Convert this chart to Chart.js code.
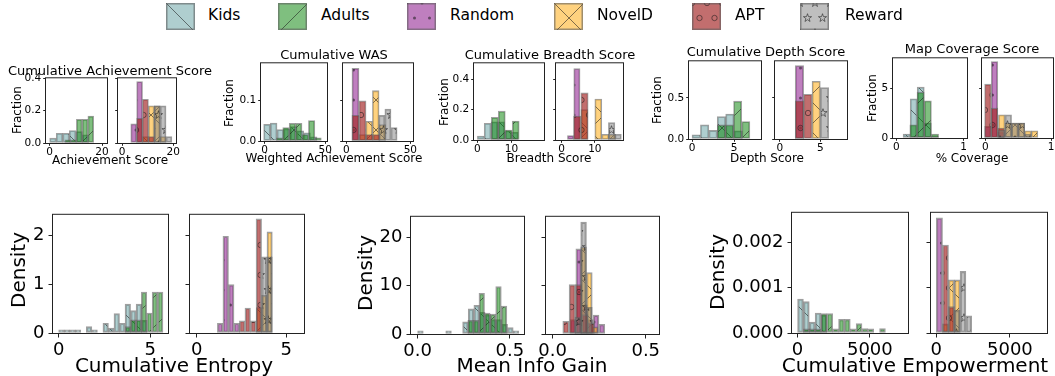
<!DOCTYPE html>
<html><head><meta charset="utf-8">
<script src="https://cdn.jsdelivr.net/npm/chart.js@4.4.1/dist/chart.umd.min.js"></script>
<style>
html,body{margin:0;padding:0;background:#fff;}
body{width:1055px;height:376px;position:relative;overflow:hidden;font-family:'DejaVu Sans',sans-serif;color:#000;}
.tx{position:absolute;white-space:nowrap;transform:translate(-50%,-50%);line-height:1;}
.rot{transform:translate(-50%,-50%) rotate(-90deg);}
canvas.pc{position:absolute;}
canvas.sw{position:absolute;}
.lt{position:absolute;white-space:nowrap;font-size:15.5px;line-height:1;transform:translateY(-50%);}
</style></head><body>
<script>
// ================= DATA =================
const legendLabels = ['Kids','Adults','Random','NovelD','APT','Reward'];
const legendKeys   = ['kids','adults','random','noveld','apt','reward'];

// histogram series: x0 = first bin edge, w = bin width, v = bar heights
// Cumulative Achievement Score
const achKids   = {x0:0,    w:2.5, v:[0.03,0.06,0.06,0.077,0.07,0.05]};
const achAdults = {x0:5.8,  w:2.2, v:[0.02,0.02,0.147,0.147,0.167]};
const achRandom = {x0:3.4,  w:2.3, v:[0.118,0.38]};
const achNoveld = {x0:8.0,  w:2.3, v:[0.04,0.23,0.23,0.04]};
const achApt    = {x0:5.7,  w:2.3, v:[0.153,0.27,0.04]};
const achReward = {x0:12.6, w:2.3, v:[0.23,0.23,0.04]};
// Cumulative WAS
const wasKids   = {x0:-0.8, w:5.5, v:[0.041,0.044,0.028,0.03,0.035,0.025,0.02,0.01]};
const wasAdults = {x0:9.6,  w:5.3, v:[0.008,0.033,0.043,0.043,0.016,0.05,0.008]};
const wasRandom = {x0:4.4,  w:5.5, v:[0.178]};
const wasNoveld = {x0:10.0, w:5.2, v:[0.016,0.048,0.123,0.04]};
const wasApt    = {x0:4.4,  w:5.5, v:[0.063,0.098,0.016,0.016]};
const wasReward = {x0:25.3, w:4.8, v:[0.063,0.078,0.033]};
// Cumulative Breadth Score
const brKids    = {x0:0,    w:2.0,  v:[0.026,0.11,0.12,0.12,0.06,0.05]};
const brAdults  = {x0:4.1,  w:2.05, v:[0.15,0.19,0.066,0.125]};
const brRandom  = {x0:1.75, w:1.9,  v:[0.029,0.47]};
const brNoveld  = {x0:5.8,  w:2.1,  v:[0.2,0,0.27,0.037,0.037]};
const brApt     = {x0:3.6,  w:2.2,  v:[0.158,0.31]};
const brReward  = {x0:14.1, w:1.95, v:[0.114,0.037]};
// Cumulative Depth Score
const depKids   = {x0:0,    w:1.0,  v:[0.052,0.172,0.104,0.272,0.304,0.1]};
const depAdults = {x0:3.0,  w:0.97, v:[0.172,0.172,0.46,0.212]};
const depRandom = {x0:1.9,  w:1.04, v:[0.892]};
const depNoveld = {x0:3.98, w:1.02, v:[0.7]};
const depApt    = {x0:1.9,  w:1.04, v:[0.464,0.544]};
const depReward = {x0:5.0,  w:1.04, v:[0.624]};
// Map Coverage Score
const mapKids   = {x0:0.1,   w:0.105, v:[0.4,3.93,5.1,1.5,0.2]};
const mapAdults = {x0:0.2,   w:0.107, v:[1.33,4.6,3.73,0.4]};
const mapRandom = {x0:-0.01, w:0.1,   v:[1.17,7.67,0.6]};
const mapNoveld = {x0:0.2,   w:0.1,   v:[2.33,1.5,1.5,1.5,0.73,0.73]};
const mapApt    = {x0:-0.01, w:0.1,   v:[5.4,3.0,1.0]};
const mapReward = {x0:0.2,   w:0.1,   v:[0.8,2.33,1.5,1.5,0.4]};
// Cumulative Entropy
const entKids   = {x0:0,    w:0.302, v:[0.065,0.065,0.065,0.065,0,0.13,0.065,0,0.2,0.1,0.4,0.2,0.59,0.46,0.59,0.26]};
const entAdults = {x0:3.63, w:0.295, v:[0.13,0.27,0.27,0.84,0.41,0.84,0.84]};
const entRandom = {x0:1.16, w:0.31,  v:[0.2,1.98,0.99,0.2]};
const entNoveld = {x0:3.33, w:0.3,   v:[0.52,0.77,2.07]};
const entApt    = {x0:2.39, w:0.31,  v:[0.25,0.51,0.25,2.34]};
const entReward = {x0:3.63, w:0.3,   v:[1.56,1.56]};
// Mean Info Gain
const igKids    = {x0:0,     w:0.0305, v:[0.65,0,0,0,0,0.65,0,0,2.5,5.2,5.9,4.5,4,3,3,2,1.3,0.65]};
const igAdults  = {x0:0.272, w:0.0303, v:[2.8,2.8,8.4,4.3,4.1,9.8,5.75]};
const igRandom  = {x0:0.094, w:0.031,  v:[3,17.6,6,3,3.9,2.0]};
const igNoveld  = {x0:0.151, w:0.031,  v:[18,12.7,1.5]};
const igApt     = {x0:0.055, w:0.034,  v:[2.6,10.2,10.2,4.0,2.3]};
const igReward  = {x0:0.12,  w:0.031,  v:[3.5,23.1,5.5]};
// Cumulative Empowerment
const empKids   = {x0:0,    w:405, v:[0.00075,0.00069,0.00024,0.00044,0.0004]};
const empAdults = {x0:405,  w:405, v:[0.00009,0.00009,0.00009,0.00043,0.00043,0.00009,0.0003,0.0003,0.00009,0.00021,0.0001,0.00009,0,0.0001]};
const empRandom = {x0:0,    w:425, v:[0.00254]};
const empNoveld = {x0:425,  w:400, v:[0.0002,0.00117,0.00117]};
const empApt    = {x0:425,  w:405, v:[0.00194,0.00058]};
const empReward = {x0:1222, w:395, v:[0.0005,0.00136,0.00038]};

// tick values and labels
const achXTicks=[0,20],      achXLabels=['0','20'];
const achYTicks=[0,0.2,0.4], achYLabels=['0.0','0.2','0.4'];
const wasXTicks=[0,50],      wasXLabels=['0','50'];
const wasYTicks=[0,0.1],     wasYLabels=['0.0','0.1'];
const brXTicks=[0,10],       brXLabels=['0','10'];
const brYTicks=[0,0.2,0.4],  brYLabels=['0.0','0.2','0.4'];
const depXTicks=[0,5],       depXLabels=['0','5'];
const depYTicks=[0,0.5],     depYLabels=['0.0','0.5'];
const mapXTicks=[0,1],       mapXLabels=['0','1'];
const mapYTicks=[0,5],       mapYLabels=['0','5'];
const entXTicks=[0,5],       entXLabels=['0','5'];
const entYTicks=[0,1,2],     entYLabels=['0','1','2'];
const igXTicks=[0,0.5],      igXLabels=['0.0','0.5'];
const igYTicks=[0,10,20],    igYLabels=['0','10','20'];
const empXTicks=[0,5000],    empXLabels=['0','5000'];
const empYTicks=[0,0.001,0.002], empYLabels=['0.000','0.001','0.002'];

// ================= STYLE =================
Chart.defaults.font.family = "'DejaVu Sans', sans-serif";
Chart.defaults.color = '#000';
const FILL = {kids:'rgba(95,158,160,0.5)', adults:'rgba(0,128,0,0.5)', random:'rgba(128,0,128,0.5)',
              noveld:'rgba(255,165,0,0.5)', apt:'rgba(165,42,42,0.68)', reward:'rgba(128,128,128,0.5)'};
const HATCH = {kids:'\\', adults:'/', random:'.', noveld:'x', apt:'o', reward:'*'};
const HC = 'rgba(25,25,25,0.55)';
const EDGE = 'rgba(95,95,95,0.6)';

function makeTile(key){
  const kind = HATCH[key];
  const c = document.createElement('canvas');
  const line = (kind==='\\'||kind==='/'||kind==='x');
  const w = line?30:15, h = 30;
  c.width=w; c.height=h;
  const g = c.getContext('2d');
  g.fillStyle = FILL[key]; g.fillRect(0,0,w,h);
  g.strokeStyle = HC; g.fillStyle = HC; g.lineWidth = 1;
  if (kind==='\\'||kind==='x'){ g.beginPath(); for(const k of [-1,0,1]){ g.moveTo(k*w,0); g.lineTo(k*w+w,h);} g.stroke(); }
  if (kind==='/'||kind==='x'){ g.beginPath(); for(const k of [-1,0,1]){ g.moveTo(k*w,h); g.lineTo(k*w+w,0);} g.stroke(); }
  if (!line){
    const pts=[[0,0],[15,0],[0,30],[15,30],[7.5,15]];
    for(const [px,py] of pts){
      g.beginPath();
      if(kind==='.'){ g.arc(px,py,1.5,0,Math.PI*2); g.fill(); }
      else if(kind==='o'){ g.arc(px,py,2.7,0,Math.PI*2); g.stroke(); }
      else { for(let i=0;i<10;i++){ const r=i%2?1.7:4.3; const a=-Math.PI/2+i*Math.PI/5; const X=px+r*Math.cos(a), Y=py+r*Math.sin(a); i?g.lineTo(X,Y):g.moveTo(X,Y);} g.closePath(); g.stroke(); }
    }
  }
  return c;
}

const boxPlugin = {id:'box', afterDraw(chart){
  const a=chart.chartArea, c=chart.ctx; c.save();
  c.strokeStyle='#222'; c.lineWidth=1;
  c.strokeRect(a.left-0.5,a.top-0.5,a.right-a.left+1,a.bottom-a.top+1);
  c.restore();
}};

// ================= LAYOUT =================
const panels = [
 {box:[46,78,61,65],  x:[-1.4,21.9], y:[0,0.4],  xt:achXTicks,xl:achXLabels,yt:achYTicks,yl:achYLabels,showY:true,  s:[['kids',achKids],['adults',achAdults]]},
 {box:[118,78,58,65], x:[-1.6,21.1], y:[0,0.4],  xt:achXTicks,xl:achXLabels,yt:achYTicks,yl:achYLabels,showY:false, s:[['random',achRandom],['noveld',achNoveld],['apt',achApt],['reward',achReward]]},
 {box:[261,63,66,78], x:[-3,51.4],   y:[0,0.19], xt:wasXTicks,xl:wasXLabels,yt:wasYTicks,yl:wasYLabels,showY:true,  s:[['kids',wasKids],['adults',wasAdults]]},
 {box:[343,63,70,78], x:[-2.6,52.1], y:[0,0.19], xt:wasXTicks,xl:wasXLabels,yt:wasYTicks,yl:wasYLabels,showY:false, s:[['random',wasRandom],['noveld',wasNoveld],['apt',wasApt],['reward',wasReward]]},
 {box:[474,63,70,77], x:[-1,19.6],   y:[0,0.505],xt:brXTicks,xl:brXLabels,yt:brYTicks,yl:brYLabels,showY:true,  s:[['kids',brKids],['adults',brAdults]]},
 {box:[556,63,67,77], x:[-1.7,18.5], y:[0,0.505],xt:brXTicks,xl:brXLabels,yt:brYTicks,yl:brYLabels,showY:false, s:[['random',brRandom],['noveld',brNoveld],['apt',brApt],['reward',brReward]]},
 {box:[689,61,72,78], x:[-0.36,8.2], y:[0,0.945],xt:depXTicks,xl:depXLabels,yt:depYTicks,yl:depYLabels,showY:true,  s:[['kids',depKids],['adults',depAdults]]},
 {box:[775,61,72,78], x:[-0.6,8.3],  y:[0,0.945],xt:depXTicks,xl:depXLabels,yt:depYTicks,yl:depYLabels,showY:false, s:[['random',depRandom],['noveld',depNoveld],['apt',depApt],['reward',depReward]]},
 {box:[893,58,74,80], x:[-0.05,1.05],y:[0,8],    xt:mapXTicks,xl:mapXLabels,yt:mapYTicks,yl:mapYLabels,showY:true,  s:[['kids',mapKids],['adults',mapAdults]]},
 {box:[982,58,71,80], x:[-0.05,1.03],y:[0,8],    xt:mapXTicks,xl:mapXLabels,yt:mapYTicks,yl:mapYLabels,showY:false, s:[['random',mapRandom],['noveld',mapNoveld],['apt',mapApt],['reward',mapReward]]},
 {big:true, box:[53,208,115,125],  x:[-0.31,5.97], y:[0,2.42],  xt:entXTicks,xl:entXLabels,yt:entYTicks,yl:entYLabels,showY:true,  s:[['kids',entKids],['adults',entAdults]]},
 {big:true, box:[190,208,114,125], x:[-0.37,6.0],  y:[0,2.42],  xt:entXTicks,xl:entXLabels,yt:entYTicks,yl:entYLabels,showY:false, s:[['random',entRandom],['noveld',entNoveld],['apt',entApt],['reward',entReward]]},
 {big:true, box:[411,210,113,124], x:[-0.036,0.577],y:[0,24.2], xt:igXTicks,xl:igXLabels,yt:igYTicks,yl:igYLabels,showY:true,  s:[['kids',igKids],['adults',igAdults]]},
 {big:true, box:[546,210,113,124], x:[-0.035,0.571],y:[0,24.2], xt:igXTicks,xl:igXLabels,yt:igYTicks,yl:igYLabels,showY:false, s:[['random',igRandom],['noveld',igNoveld],['apt',igApt],['reward',igReward]]},
 {big:true, box:[792,206,116,127], x:[-385,7637], y:[0,0.00265], xt:empXTicks,xl:empXLabels,yt:empYTicks,yl:empYLabels,showY:true,  s:[['kids',empKids],['adults',empAdults]]},
 {big:true, box:[931,206,116,127], x:[-358,7520], y:[0,0.00265], xt:empXTicks,xl:empXLabels,yt:empYTicks,yl:empYLabels,showY:false, s:[['random',empRandom],['noveld',empNoveld],['apt',empApt],['reward',empReward]]},
];

const texts = [
 ['Cumulative Achievement Score',110,70,13],
 ['Cumulative WAS',334,54,13],
 ['Cumulative Breadth Score',550,54,13],
 ['Cumulative Depth Score',766,51,13],
 ['Map Coverage Score',972,48,13],
 ['Achievement Score',110,160,12],
 ['Weighted Achievement Score',334,158,12],
 ['Breadth Score',549,158,12],
 ['Depth Score',767,158,12],
 ['% Coverage',972,158,12],
 ['Fraction',17,110,12,true],['Fraction',229,103,12,true],['Fraction',444,102,12,true],['Fraction',657,100,12,true],['Fraction',872,98,12,true],
 ['Density',18,270,20,true],['Density',365,273,20,true],['Density',717,272,20,true],
 ['Cumulative Entropy',174,365,20],['Mean Info Gain',532,365,20],['Cumulative Empowerment',915,365,20]
];
const legendSwatchX = [166,278,407,554,692,800];
const legendTextX   = [208,321,450,597,735,845];

// ================= BUILD =================
function buildPanel(p){
  const big = !!p.big;
  const L = big?72:42, T=8, R=12, B=big?34:22;
  const [bl,bt,bw,bh] = p.box;
  const cv = document.createElement('canvas');
  cv.className='pc';
  cv.width=bw+L+R; cv.height=bh+T+B;
  cv.style.left=(bl-L)+'px'; cv.style.top=(bt-T)+'px';
  cv.style.width=cv.width+'px'; cv.style.height=cv.height+'px';
  document.body.appendChild(cv);
  const ctx = cv.getContext('2d');
  const fs = big?18:10.5, tl = big?4.5:2.8;
  const datasets = p.s.map(([key,h],i)=>({
    type:'bar',
    data:h.v.map((y,j)=>({x:h.x0+(j+0.5)*h.w, y:y})),
    backgroundColor: ctx.createPattern(makeTile(key),'repeat'),
    borderColor: EDGE, borderWidth: big?1.5:1.1, borderSkipped:false,
    grouped:false, order:-i,
    barThickness:(c)=>{const s=c.chart.scales.x; return Math.abs(s.getPixelForValue(h.w)-s.getPixelForValue(0));}
  }));
  const gridOpt = {display:true, offset:false, drawOnChartArea:false, drawTicks:true, tickLength:tl, color:'#222', lineWidth:1};
  new Chart(cv,{type:'bar', data:{datasets},
    options:{responsive:false, animation:false, devicePixelRatio:1,
      layout:{padding:{left:0,top:T,right:R,bottom:0}},
      plugins:{legend:{display:false},tooltip:{enabled:false},title:{display:false}},
      scales:{
        x:{type:'linear',min:p.x[0],max:p.x[1],offset:false,grid:gridOpt,border:{display:false},
           ticks:{autoSkip:false,maxRotation:0,minRotation:0,padding:big?2:0.5,color:'#000',font:{size:fs},callback:(v,i)=>p.xl[i]},
           afterBuildTicks:(s)=>{s.ticks=p.xt.map(v=>({value:v}));},
           afterFit:(s)=>{s.height=B;}},
        y:{type:'linear',min:p.y[0],max:p.y[1],grid:gridOpt,border:{display:false},
           ticks:{autoSkip:false,padding:big?4:2,color:'#000',font:{size:fs},callback:(v,i)=>p.showY?p.yl[i]:''},
           afterBuildTicks:(s)=>{s.ticks=p.yt.map(v=>({value:v}));},
           afterFit:(s)=>{s.width=L;}}
      }},
    plugins:[boxPlugin]});
}
panels.forEach(buildPanel);

texts.forEach(([t,x,y,sz,rot])=>{
  const d=document.createElement('div');
  d.className='tx'+(rot?' rot':'');
  d.textContent=t; d.style.left=x+'px'; d.style.top=y+'px'; d.style.fontSize=sz+'px';
  document.body.appendChild(d);
});

legendKeys.forEach((k,i)=>{
  const c=document.createElement('canvas');
  c.className='sw'; c.width=29; c.height=27;
  c.style.left=legendSwatchX[i]+'px'; c.style.top='3px';
  document.body.appendChild(c);
  const g=c.getContext('2d');
  g.fillStyle=g.createPattern(makeTile(k),'repeat'); g.fillRect(0,0,29,27);
  g.strokeStyle=EDGE; g.lineWidth=1.5; g.strokeRect(0.75,0.75,27.5,25.5);
  const s=document.createElement('div');
  s.className='lt'; s.textContent=legendLabels[i];
  s.style.left=legendTextX[i]+'px'; s.style.top='16px';
  document.body.appendChild(s);
});
</script>
</body></html>
